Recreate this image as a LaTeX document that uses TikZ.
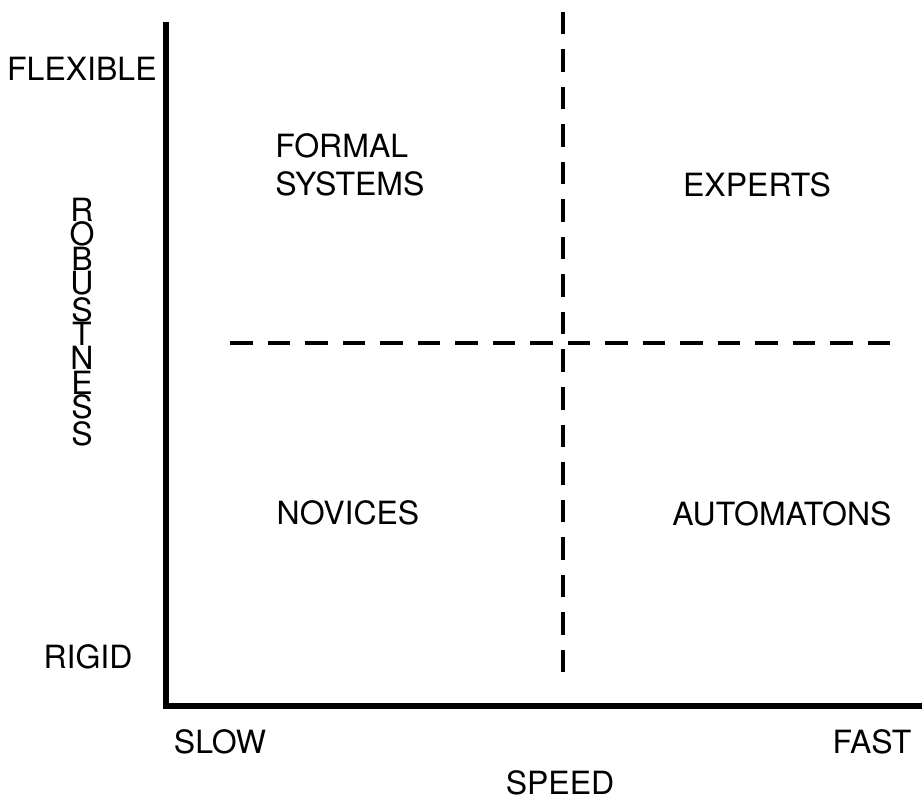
\documentclass[tikz,border=0pt]{standalone}
\usepackage{fontspec}
\setmainfont{TeX Gyre Heros}
\usepackage{tikz}

\tikzset{
  axis/.style={line width=2.6pt, line join=miter},
  divider/.style={line width=2pt, dash pattern=on 11.25pt off 7.5pt},
  label/.style={inner sep=0pt, font=\fontsize{16}{19}\selectfont}
}

\begin{document}
\begin{tikzpicture}[x=0.5pt, y=-0.5pt]
  \useasboundingbox (0,0) rectangle (924,801);

  %% Axes
  \coordinate (ytop) at (166,22);
  \coordinate (origin) at (166,706);
  \coordinate (xend) at (922,706);
  \draw[axis] (ytop) -- (origin) -- (xend);

  %% Quadrant dividers
  \coordinate (vtop) at (563,12);
  \coordinate (vbot) at (563,677);
  \coordinate (hleft) at (230,343);
  \coordinate (hright) at (891,343);
  \draw[divider] (vtop) -- (vbot);
  \draw[divider] (hleft) -- (hright);

  %% Axis labels
  \node[label, anchor=east] (flexible) at (157,69) {FLEXIBLE};
  \node[label] (rigid) at (88,657) {RIGID};
  \node[label] (slow) at (220,742) {SLOW};
  \node[label] (fast) at (872,742) {FAST};
  \node[label] (speed) at (560,783) {SPEED};
  \node[label, align=center, font=\fontsize{16}{12.2}\selectfont]
    (robust) at (82,322) {R\\O\\B\\U\\S\\T\\N\\E\\S\\S};

  %% Quadrants
  \node[label, align=left, anchor=north west] (formal) at (275,133) {FORMAL\\SYSTEMS};
  \node[label] (experts) at (757,185) {EXPERTS};
  \node[label] (novices) at (348,513) {NOVICES};
  \node[label] (automatons) at (782,514) {AUTOMATONS};

\end{tikzpicture}
\end{document}
